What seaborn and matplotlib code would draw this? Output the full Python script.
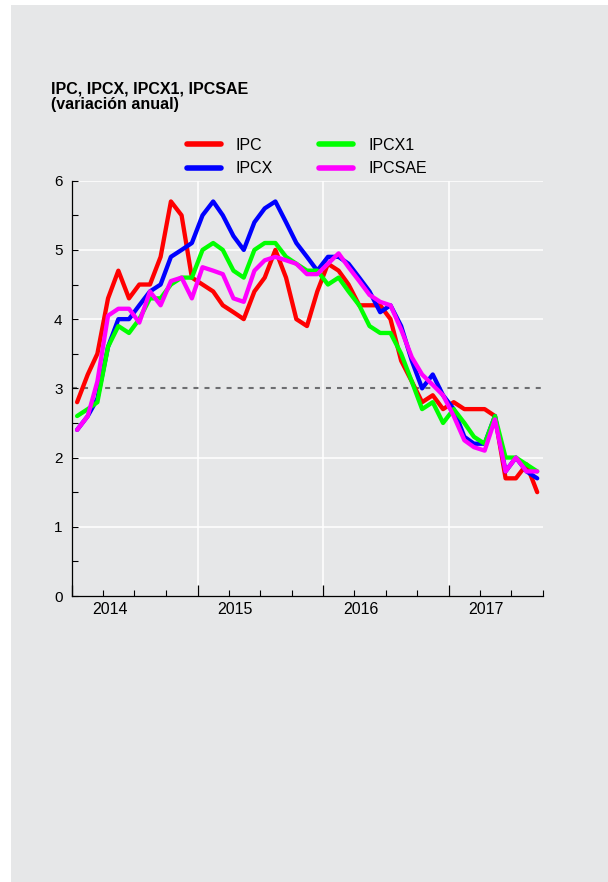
import pandas as pd
import numpy as np
import matplotlib
matplotlib.use('Agg')
import matplotlib.pyplot as plt
import matplotlib.dates as mdates
import matplotlib.patches as mpatches
import seaborn as sns

bg = '#e6e7e8'

# monthly annual change, Jan 2014 - Sep 2017
months = pd.date_range('2014-01-01', '2017-09-01', freq='MS') + pd.Timedelta(days=14)

ipc = [2.8, 3.2, 3.5, 4.3, 4.7, 4.3, 4.5, 4.5, 4.9, 5.7, 5.5, 4.6,
       4.5, 4.4, 4.2, 4.1, 4.0, 4.4, 4.6, 5.0, 4.6, 4.0, 3.9, 4.4,
       4.8, 4.7, 4.5, 4.2, 4.2, 4.2, 4.0, 3.4, 3.1, 2.8, 2.9, 2.7,
       2.8, 2.7, 2.7, 2.7, 2.6, 1.7, 1.7, 1.9, 1.5]
ipcx = [2.4, 2.6, 2.85, 3.6, 4.0, 4.0, 4.2, 4.4, 4.5, 4.9, 5.0, 5.1,
        5.5, 5.7, 5.5, 5.2, 5.0, 5.4, 5.6, 5.7, 5.4, 5.1, 4.9, 4.7,
        4.9, 4.9, 4.8, 4.6, 4.4, 4.1, 4.2, 3.9, 3.4, 3.0, 3.2, 2.9,
        2.7, 2.3, 2.2, 2.2, 2.6, 1.8, 2.0, 1.8, 1.7]
ipcx1 = [2.6, 2.7, 2.8, 3.6, 3.9, 3.8, 4.0, 4.3, 4.3, 4.5, 4.6, 4.6,
         5.0, 5.1, 5.0, 4.7, 4.6, 5.0, 5.1, 5.1, 4.9, 4.8, 4.7, 4.7,
         4.5, 4.6, 4.4, 4.2, 3.9, 3.8, 3.8, 3.5, 3.1, 2.7, 2.8, 2.5,
         2.7, 2.5, 2.3, 2.2, 2.6, 2.0, 2.0, 1.9, 1.8]
ipcsae = [2.4, 2.6, 3.1, 4.05, 4.15, 4.15, 3.95, 4.4, 4.2, 4.55, 4.6, 4.3,
          4.75, 4.7, 4.65, 4.3, 4.25, 4.7, 4.85, 4.9, 4.85, 4.8, 4.65, 4.65,
          4.8, 4.95, 4.75, 4.55, 4.35, 4.25, 4.2, 3.85, 3.45, 3.2, 3.05, 2.9,
          2.6, 2.25, 2.15, 2.1, 2.55, 1.8, 2.0, 1.8, 1.8]

series = ['IPC', 'IPCX', 'IPCX1', 'IPCSAE']
colors = ['#ff0000', '#0000ff', '#00ff00', '#ff00ff']
years = [2014, 2015, 2016, 2017]

df = pd.DataFrame({'fecha': list(months) * 4,
                   'valor': ipc + ipcx + ipcx1 + ipcsae,
                   'serie': np.repeat(series, len(months))})

sns.set_theme(style='white', rc={'axes.facecolor': bg, 'text.color': 'black',
                                 'xtick.color': 'black', 'ytick.color': 'black'})
plt.rcParams['font.family'] = ['Liberation Sans', 'DejaVu Sans']

fig = plt.figure(figsize=(6.08, 8.82), dpi=100, facecolor='white')
fig.patches.append(mpatches.Rectangle((11 / 608, 0), 1, 1 - 5 / 882, transform=fig.transFigure,
                                      facecolor=bg, edgecolor='none', zorder=-10))
ax = fig.add_axes([72.3 / 608, 1 - 596 / 882, (542.7 - 72.3) / 608, (596 - 180.7) / 882])

# grid
for v in [1, 2, 4, 5, 6]:
    ax.axhline(v, color='white', lw=1.1, zorder=1)
for y in years[1:]:
    ax.axvline(pd.Timestamp(y, 1, 1), color='white', lw=1.1, zorder=1)
ax.axhline(3, color='#6d6e71', lw=1.5, ls=(0, (2.4, 2.9)), zorder=1)

sns.lineplot(data=df, x='fecha', y='valor', hue='serie', hue_order=series,
             palette=colors, lw=3.1, ax=ax, zorder=3)

ax.set_ylim(0, 6)
ax.set_xlim(pd.Timestamp(2014, 1, 1), pd.Timestamp(2017, 10, 1))
ax.set_yticks(range(0, 7))
ax.set_yticks(np.arange(0.5, 6, 1), minor=True)
ax.xaxis.set_major_locator(mdates.YearLocator())
ax.xaxis.set_minor_locator(mdates.MonthLocator(bymonth=[1, 4, 7, 10]))
ax.set_xticklabels([])
ax.tick_params(axis='y', which='both', direction='in', length=4, width=0.8, color='black',
               left=True, labelsize=11, labelcolor='black', pad=7)
ax.tick_params(axis='x', which='major', direction='in', length=8, width=0.9, color='black', bottom=True)
ax.tick_params(axis='x', which='minor', direction='in', length=4, width=0.8, color='black', bottom=True)
ax.xaxis.set_zorder(5)
ax.yaxis.set_zorder(5)
for s in ['top', 'right']:
    ax.spines[s].set_visible(False)
for s in ['left', 'bottom']:
    ax.spines[s].set_color('black')
    ax.spines[s].set_linewidth(0.9)
    ax.spines[s].set_zorder(5)
ax.set_xlabel('')
ax.set_ylabel('')

for y in years:
    ax.annotate(str(y), xy=(pd.Timestamp(y, 4, 20), 0), xycoords=('data', 'axes fraction'),
                xytext=(0, -6), textcoords='offset pixels', ha='center', va='top',
                fontsize=11.5, color='black')

handles, labels = ax.get_legend_handles_labels()
ax.get_legend().remove()
for h in handles:
    h.set_linewidth(4)
fig.legend(handles, labels, ncol=2, loc='upper left', bbox_to_anchor=(187 / 608, 1 - 138 / 882),
           frameon=False, fontsize=11.5, handlelength=2.1, handletextpad=0.95, columnspacing=2.9,
           labelspacing=0.52, borderpad=0, borderaxespad=0)

fig.text(50.7 / 608, 1 - 81.5 / 882, 'IPC, IPCX, IPCX1, IPCSAE\n(variación anual)',
         fontsize=11.5, fontweight='bold', ha='left', va='top', linespacing=1.08, color='black')

fig.savefig('out.png', dpi=100, facecolor='white')
